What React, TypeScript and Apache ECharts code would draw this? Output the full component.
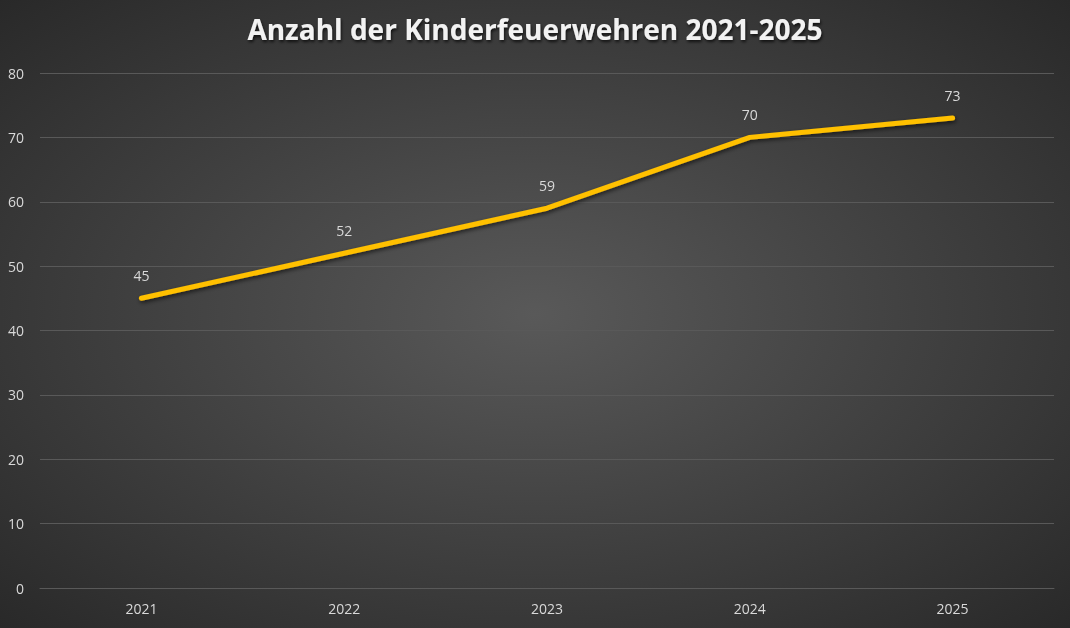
import React, { useEffect, useRef } from "react";
import * as echarts from "echarts";

const categories = ["2021", "2022", "2023", "2024", "2025"];
const values = [45, 52, 59, 70, 73];
const titleText = "Anzahl der Kinderfeuerwehren 2021-2025";

export default function App() {
  const ref = useRef<HTMLDivElement>(null);
  useEffect(() => {
    if (!ref.current) return;
    const chart = echarts.init(ref.current, undefined, { renderer: "svg" });
    chart.setOption({
      animation: false,
      backgroundColor: {
        type: "radial",
        x: 0.5,
        y: 0.5,
        r: 0.75,
        colorStops: [
          { offset: 0, color: "#595959" },
          { offset: 1, color: "#262626" },
        ],
      },
      title: {
        text: titleText,
        left: "center",
        top: 10,
        textStyle: {
          color: "#f2f2f2",
          fontFamily: "Open Sans",
          fontWeight: "bold",
          fontSize: 28,
          textShadowColor: "rgba(0,0,0,0.7)",
          textShadowBlur: 3,
          textShadowOffsetX: 1,
          textShadowOffsetY: 2,
        },
      },
      grid: { left: 40, right: 16, top: 73, bottom: 40, containLabel: false },
      xAxis: {
        type: "category",
        data: categories,
        boundaryGap: true,
        axisLine: { show: true, lineStyle: { color: "#595959", width: 1 } },
        axisTick: { show: false },
        axisLabel: { color: "#d9d9d9", fontSize: 14, fontFamily: "Open Sans", margin: 13 },
      },
      yAxis: {
        type: "value",
        min: 0,
        max: 80,
        interval: 10,
        axisLine: { show: false },
        axisTick: { show: false },
        splitLine: { lineStyle: { color: "#595959", width: 1 } },
        axisLabel: { color: "#d9d9d9", fontSize: 14, fontFamily: "Open Sans", margin: 16 },
      },
      series: [
        {
          type: "line",
          data: values,
          symbol: "circle",
          symbolSize: 2,
          showSymbol: true,
          lineStyle: {
            color: "#ffc000",
            width: 5,
            cap: "round",
            join: "round",
            shadowColor: "rgba(0,0,0,0.6)",
            shadowBlur: 4,
            shadowOffsetX: 1,
            shadowOffsetY: 2,
          },
          itemStyle: { color: "#ffc000" },
          label: {
            show: true,
            position: "top",
            distance: 15,
            color: "#d9d9d9",
            fontSize: 14,
            fontFamily: "Open Sans",
          },
        },
      ],
    });
    return () => chart.dispose();
  }, []);
  return (
    <div
      ref={ref}
      style={{ position: "fixed", left: 0, top: 0, width: 1070, height: 628 }}
    />
  );
}
